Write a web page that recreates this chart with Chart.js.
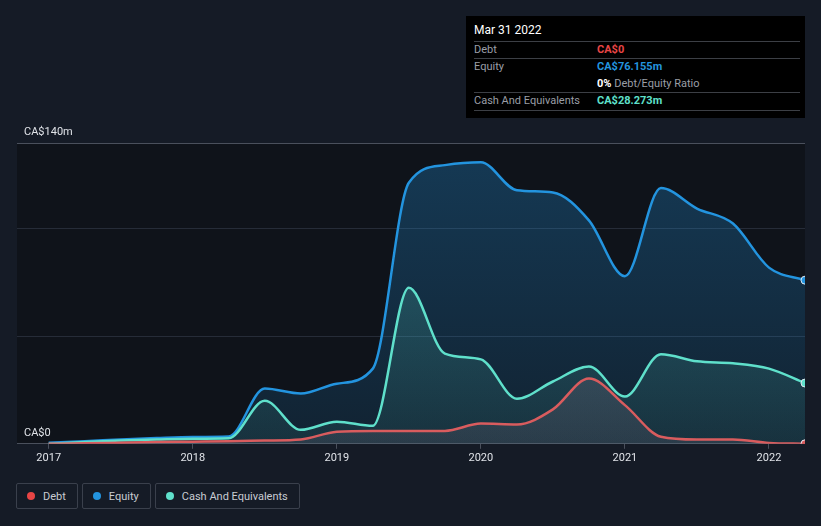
<!DOCTYPE html>
<html>
<head>
<meta charset="utf-8">
<script src="https://cdn.jsdelivr.net/npm/chart.js@4/dist/chart.umd.min.js"></script>
<style>
  html, body { margin: 0; padding: 0; background: #151b26; }
  body { width: 821px; height: 526px; position: relative; overflow: hidden; font-family: Roboto, "Noto Sans", sans-serif; }
  #wrap { position: absolute; left: 0; top: 0; width: 821px; height: 468px; }
  .tip { position: absolute; left: 466px; top: 16px; width: 339px; height: 102px; background: #000; }
  .tip .title { position: absolute; left: 8px; top: 7px; color: #fff; font-size: 12px; }
  .tip .sep { position: absolute; left: 8px; width: 326px; height: 1px; background: #3c3f45; }
  .tip .lbl { position: absolute; left: 8px; color: #9a9ea6; font-size: 11px; }
  .tip .val { position: absolute; left: 131px; font-size: 11px; font-weight: bold; }
  .legend { position: absolute; left: 16px; top: 483px; display: flex; gap: 4px; }
  .legend .item { border: 1px solid #3a404c; border-radius: 2px; height: 26px; box-sizing: border-box; padding: 0 11px 0 10px; display: flex; align-items: center; color: #c8ccd2; font-size: 11px; }
  .legend .dot { width: 8px; height: 8px; border-radius: 50%; margin-right: 8px; }
</style>
</head>
<body>
<div id="wrap"><canvas id="debtChart"></canvas></div>

<div class="tip">
  <div class="title">Mar 31 2022</div>
  <div class="sep" style="top:25px"></div>
  <div class="lbl" style="top:27px">Debt</div>
  <div class="val" style="top:27px;color:#e84545">CA$0</div>
  <div class="sep" style="top:42px"></div>
  <div class="lbl" style="top:44px">Equity</div>
  <div class="val" style="top:44px;color:#2394df">CA$76.155m</div>
  <div class="val" style="top:61px;color:#fff">0% <span style="color:#9a9ea6;font-weight:normal">Debt/Equity Ratio</span></div>
  <div class="sep" style="top:76px"></div>
  <div class="lbl" style="top:78px">Cash And Equivalents</div>
  <div class="val" style="top:78px;color:#5fe0cb">CA$28.273m</div>
  <div class="sep" style="top:94px"></div>
</div>

<div class="legend">
  <div class="item"><span class="dot" style="background:#e84545"></span>Debt</div>
  <div class="item"><span class="dot" style="background:#2394df"></span>Equity</div>
  <div class="item"><span class="dot" style="background:#5fe0cb"></span>Cash And Equivalents</div>
</div>

<script>
// quarter ends as decimal years
const quarters = [2017, 2017.25, 2017.5, 2017.75, 2018, 2018.25, 2018.5, 2018.75, 2019, 2019.25, 2019.5,
                  2019.75, 2020, 2020.25, 2020.5, 2020.75, 2021, 2021.25, 2021.5, 2021.75, 2022, 2022.25];

// values in CA$ millions
const debt   = [0, 0.2, 0.5, 0.8, 1.0, 1.2, 1.5, 2, 5.6, 6, 6, 6, 9.4, 9, 16, 30.4, 18, 3.3, 2, 2, 0.4, 0];
const equity = [0.5, 1.2, 2.0, 2.7, 3.2, 3.4, 25.7, 23.4, 28, 35, 121.5, 129.7, 131, 118, 117, 104, 78, 119, 109.5, 102.5, 82, 76.155];
const cash   = [0, 0.8, 1.5, 2.0, 2.4, 2.6, 20, 6.5, 10.3, 8.4, 72.6, 42, 39.3, 21, 29, 36, 22, 41.7, 38.4, 37.5, 35, 28.273];

const yearTicks = [2017, 2018, 2019, 2020, 2021, 2022];
const valueTicks = [0, 50, 100, 140];
const valueLabels = { 0: 'CA$0', 140: 'CA$140m' };

function points(arr) {
    return arr.map((v, i) => ({ x: quarters[i], y: v }));
}

function grad(rgb, top, bottom) {
    return (ctx) => {
        const area = ctx.chart.chartArea;
        if (!area) return `rgba(${rgb},${top})`;
        const g = ctx.chart.ctx.createLinearGradient(0, area.top, 0, area.bottom);
        g.addColorStop(0, `rgba(${rgb},${top})`);
        g.addColorStop(1, `rgba(${rgb},${bottom})`);
        return g;
    };
}

// only the last point gets a marker
const lastOnly = (ctx) => ctx.dataIndex === quarters.length - 1 ? 4 : 0;

// darker plot background
const plotBg = {
    id: 'plotBg',
    beforeDraw(chart) {
        const { ctx, chartArea: a } = chart;
        ctx.save();
        ctx.fillStyle = '#0f131a';
        ctx.fillRect(a.left, a.top, a.right - a.left, a.bottom - a.top);
        ctx.restore();
    }
};

function makeSet(label, data, color, rgb, top, bottom) {
    return {
        label: label,
        data: points(data),
        borderColor: color,
        backgroundColor: grad(rgb, top, bottom),
        borderWidth: 2.5,
        fill: 'origin',
        cubicInterpolationMode: 'monotone',
        pointRadius: lastOnly,
        pointBackgroundColor: color,
        pointBorderColor: '#dfe8f0',
        pointBorderWidth: 1
    };
}

new Chart(document.getElementById('debtChart'), {
    type: 'line',
    data: {
        datasets: [
            makeSet('Debt', debt, '#d95c5e', '150,120,140', 0.35, 0.15),
            makeSet('Cash And Equivalents', cash, '#5fe0cb', '95,224,203', 0.28, 0.08),
            makeSet('Equity', equity, '#2394df', '35,148,223', 0.3, 0.12)
        ]
    },
    options: {
        responsive: true,
        maintainAspectRatio: false,
        animation: false,
        layout: { padding: { left: 17, right: 16, top: 143, bottom: 0 } },
        plugins: {
            legend: { display: false },
            tooltip: { enabled: false }
        },
        scales: {
            x: {
                type: 'linear',
                min: 2016.78,
                max: 2022.25,
                afterBuildTicks: (axis) => { axis.ticks = yearTicks.map(v => ({ value: v })); },
                ticks: {
                    color: '#e0e3e8',
                    font: { family: 'Roboto', size: 11 },
                    padding: 3,
                    maxRotation: 0,
                    callback: (v) => String(v)
                },
                grid: { drawOnChartArea: false, drawTicks: true, tickLength: 5, color: '#4a505c' },
                border: { display: false }
            },
            y: {
                min: 0,
                max: 140,
                afterBuildTicks: (axis) => { axis.ticks = valueTicks.map(v => ({ value: v })); },
                afterFit: (axis) => { axis.width = 0; },
                ticks: {
                    mirror: true,
                    color: '#e0e3e8',
                    font: { family: 'Roboto', size: 11 },
                    padding: 7,
                    labelOffset: -11,
                    callback: (v) => valueLabels[v] || ''
                },
                grid: {
                    drawTicks: false,
                    color: (c) => (c.tick && (c.tick.value === 0 || c.tick.value === 140)) ? '#4a505c' : '#262c38',
                    lineWidth: 1
                },
                border: { display: false }
            }
        }
    },
    plugins: [plotBg]
});
</script>
</body>
</html>
